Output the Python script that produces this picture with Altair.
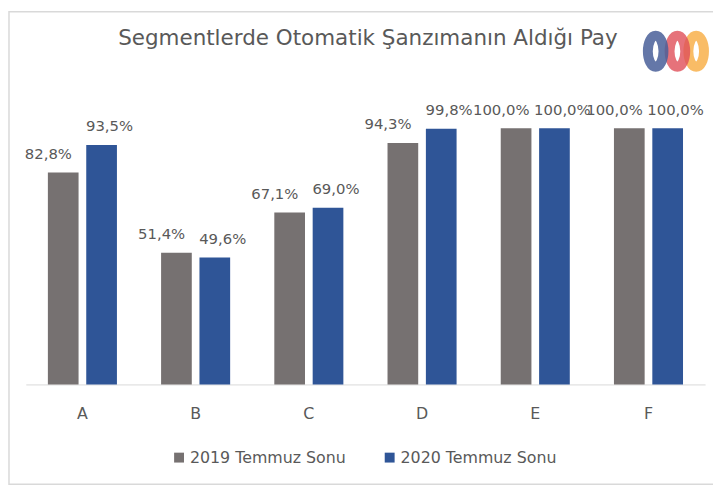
import altair as alt
import pandas as pd

title_text = "Segmentlerde Otomatik Şanzımanın Aldığı Pay"
categories = ["A", "B", "C", "D", "E", "F"]
series_names = ["2019 Temmuz Sonu", "2020 Temmuz Sonu"]
values_2019 = [82.8, 51.4, 67.1, 94.3, 100.0, 100.0]
values_2020 = [93.5, 49.6, 69.0, 99.8, 100.0, 100.0]
colors = ["#767171", "#2F5597"]

rows = []
for c, v in zip(categories, values_2019):
    rows.append({"cat": c, "series": series_names[0], "value": v})
for c, v in zip(categories, values_2020):
    rows.append({"cat": c, "series": series_names[1], "value": v})
df = pd.DataFrame(rows)
df["label"] = df["value"].map(lambda v: f"{v:.1f}".replace(".", ",") + "%")

FONT = "DejaVu Sans"
TXT = "#595959"

x_enc = alt.X("cat:N", sort=categories,
              scale=alt.Scale(paddingInner=0.39, paddingOuter=0.195),
              axis=alt.Axis(title=None, labelAngle=0, labelFontSize=16, labelColor=TXT,
                            labelFont=FONT, ticks=False, domainColor="#d9d9d9",
                            labelPadding=21))
xoff = alt.XOffset("series:N", sort=series_names,
                   scale=alt.Scale(paddingInner=0.2, paddingOuter=0))
y_enc = alt.Y("value:Q", scale=alt.Scale(domain=[0, 100], nice=False), axis=None)

base = alt.Chart(df)

bars = base.mark_bar().encode(
    x=x_enc, xOffset=xoff, y=y_enc,
    color=alt.Color("series:N", sort=series_names,
                    scale=alt.Scale(domain=series_names, range=colors),
                    legend=alt.Legend(title=None, orient="none", direction="horizontal",
                                      legendX=147, legendY=325, symbolType="square",
                                      symbolSize=100, labelFontSize=16, labelColor=TXT,
                                      labelFont=FONT, columnPadding=36, labelOffset=3,
                                      symbolStrokeWidth=0)),
)

def label_layer(name, dx):
    return base.transform_filter(alt.datum.series == name).mark_text(
        baseline="alphabetic", dy=-14, dx=dx, fontSize=15, color=TXT, font=FONT
    ).encode(x=x_enc, xOffset=xoff, y=y_enc, text="label:N")

lab19 = label_layer(series_names[0], -15)
lab20 = label_layer(series_names[1], 8)

deco_df = pd.DataFrame({"k": ["b", "r", "o"], "title": [title_text] * 3})

ELLIPSE = "M -0.5 0 A 0.5 1 0 1 0 0.5 0 A 0.5 1 0 1 0 -0.5 0 Z"

def ring(key, color, xpos, op):
    return alt.Chart(deco_df).transform_filter(alt.datum.k == key).mark_point(
        shape=ELLIPSE, filled=False, strokeWidth=10, size=1000, opacity=op, color=color
    ).encode(x=alt.value(xpos), y=alt.value(-78))

logo_o = ring("o", "#F8B14C", 678, 0.85)
logo_r = ring("r", "#E0505A", 659, 0.8)
logo_b = ring("b", "#4A6099", 637, 0.85)

border = alt.Chart(deco_df).transform_filter(alt.datum.k == "b").mark_rect(
    fill=None, stroke="#d9d9d9", strokeWidth=1.5
).encode(x=alt.value(-17), x2=alt.value(700), y=alt.value(-118), y2=alt.value(360))

title = alt.Chart(deco_df).transform_filter(alt.datum.k == "b").mark_text(
    fontSize=21.7, font=FONT, color=TXT, align="center", baseline="alphabetic"
).encode(x=alt.value(346), y=alt.value(-84), text="title:N")

chart = alt.layer(border, bars, lab19, lab20, logo_o, logo_r, logo_b, title).properties(
    width=687, height=259,
    autosize=alt.AutoSizeParams(type="none"),
    padding={"left": 18, "top": 119, "right": 8, "bottom": 100},
).configure_view(stroke=None)

chart.save("out.html", embed_options={"renderer": "svg", "actions": False})
